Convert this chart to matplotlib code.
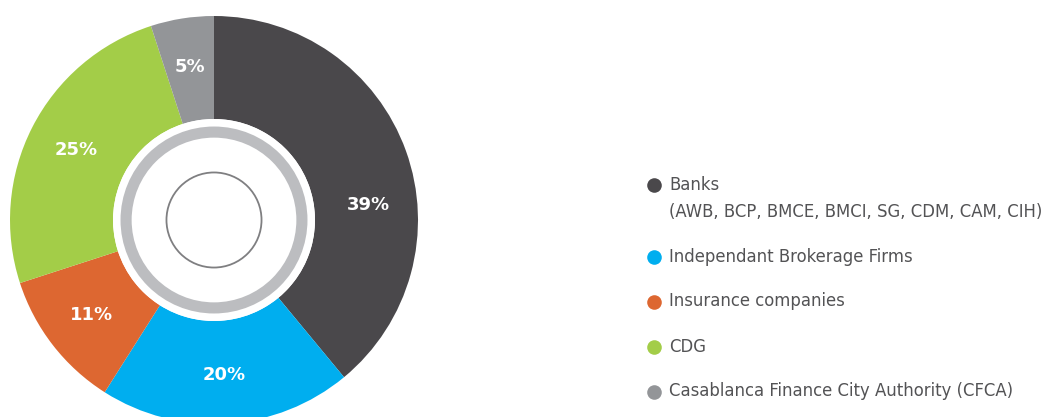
import numpy as np
import matplotlib
matplotlib.use('Agg')
import matplotlib.pyplot as plt
from matplotlib.patches import Circle

# data
categories = ['Banks\n(AWB, BCP, BMCE, BMCI, SG, CDM, CAM, CIH)',
              'Independant Brokerage Firms',
              'Insurance companies',
              'CDG',
              'Casablanca Finance City Authority (CFCA)']
shares = [39, 20, 11, 25, 5]
colors = ['#4a484b', '#00aeef', '#dd6731', '#a3cd48', '#939598']

W, H = 1045, 417
fig = plt.figure(figsize=(W / 100, H / 100), dpi=100)

# donut axes: centre (214, 220) px from top-left, radius 204 px
cx, cy, R = 214, 220, 204
ax = fig.add_axes([(cx - R) / W, (H - cy - R) / H, 2 * R / W, 2 * R / H])
wedges, texts, autotexts = ax.pie(
    shares, colors=colors, startangle=90, counterclock=False,
    radius=1, autopct='%d%%', pctdistance=0.76,
    wedgeprops=dict(width=0.505, linewidth=0),
    textprops=dict(color='white', fontsize=13, fontweight='bold'))

# the 39% label sits lower than the wedge middle
x, y = autotexts[0].get_position()
r = np.hypot(x, y)
autotexts[0].set_position((r * np.cos(np.radians(5.5)), r * np.sin(np.radians(5.5))))

# centre decoration
ax.add_patch(Circle((0, 0), 0.495, facecolor='white', edgecolor='none', zorder=3))
ax.add_patch(Circle((0, 0), 0.431, facecolor='none', edgecolor='#bcbdc0',
                    linewidth=8, zorder=4))
ax.add_patch(Circle((0, 0), 0.233, facecolor='none', edgecolor='#7f7f81',
                    linewidth=1.3, zorder=4))
ax.set_xlim(-1, 1)
ax.set_ylim(-1, 1)
ax.set_aspect('equal')
ax.axis('off')

# legend drawn in pixel coordinates
lax = fig.add_axes([0, 0, 1, 1])
lax.set_xlim(0, W)
lax.set_ylim(H, 0)
lax.axis('off')
ys = [198.5, 257, 301.5, 346.5, 391.5]
for c, lab, yy in zip(colors, categories, ys):
    dot_y = 185 if '\n' in lab else yy
    lax.plot(654, dot_y, 'o', color=c, markersize=10.5, markeredgewidth=0)
    lax.text(669, yy, lab, fontsize=11.9, color='#535355', va='center',
             linespacing=1.6)

fig.savefig('out.png', dpi=100)
